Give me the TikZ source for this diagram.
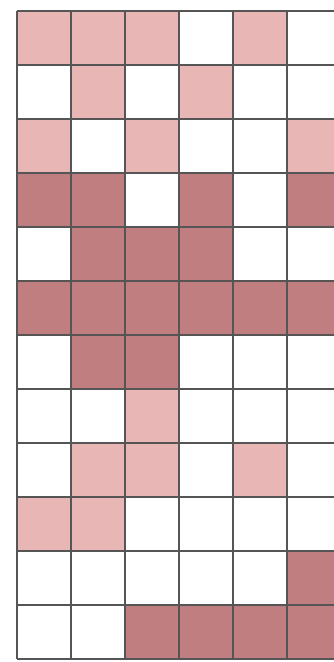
\documentclass[tikz,border=0pt]{standalone}
\definecolor{lightc}{HTML}{E8B6B4}
\definecolor{darkc}{HTML}{C07E80}
\definecolor{gridc}{HTML}{555555}
\begin{document}
\begin{tikzpicture}[x=1pt,y=-1pt,
  gridline/.style={draw=gridc,line width=2pt},
  L/.style={fill=lightc},
  D/.style={fill=darkc}]
\useasboundingbox (0,0) rectangle (334,662);
\fill[white] (0,0) rectangle (334,662);
\begin{scope}
\clip (0,0) rectangle (334,662);
\def\cell#1#2#3{\fill[#3] ({16.5+54*#1},{10.7+54*#2}) rectangle ++(54,54);}
% row 0
\cell{0}{0}{L}\cell{1}{0}{L}\cell{2}{0}{L}\cell{4}{0}{L}
% row 1
\cell{1}{1}{L}\cell{3}{1}{L}
% row 2
\cell{0}{2}{L}\cell{2}{2}{L}\cell{5}{2}{L}
% row 3
\cell{0}{3}{D}\cell{1}{3}{D}\cell{3}{3}{D}\cell{5}{3}{D}
% row 4
\cell{1}{4}{D}\cell{2}{4}{D}\cell{3}{4}{D}
% row 5
\foreach \c in {0,...,5} {\cell{\c}{5}{D}}
% row 6
\cell{1}{6}{D}\cell{2}{6}{D}
% row 7
\cell{2}{7}{L}
% row 8
\cell{1}{8}{L}\cell{2}{8}{L}\cell{4}{8}{L}
% row 9
\cell{0}{9}{L}\cell{1}{9}{L}
% row 10
\cell{5}{10}{D}
% row 11
\cell{2}{11}{D}\cell{3}{11}{D}\cell{4}{11}{D}\cell{5}{11}{D}
% grid
\foreach \c in {0,...,6} {\draw[gridline] ({16.5+54*\c},10.7) -- ({16.5+54*\c},658.7);}
\foreach \r in {0,...,12} {\draw[gridline] (16.5,{10.7+54*\r}) -- (340.5,{10.7+54*\r});}
\end{scope}
\end{tikzpicture}
\end{document}
